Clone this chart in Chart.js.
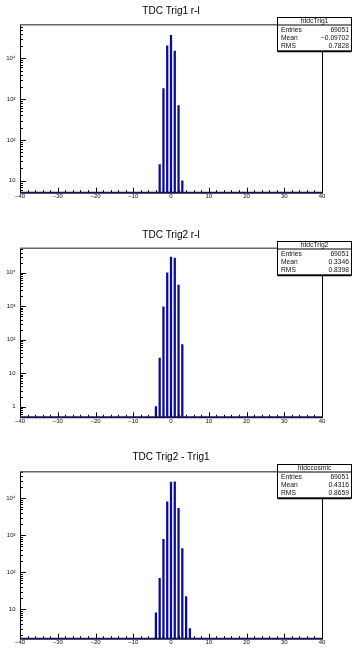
<!DOCTYPE html>
<html>
<head>
<meta charset="utf-8">
<script src="https://cdn.jsdelivr.net/npm/chart.js@4.4.1/dist/chart.umd.min.js"></script>
<style>
  html, body { margin: 0; padding: 0; background: #fff; }
  .pad { position: absolute; left: 0; width: 352px; height: 216px; }
</style>
</head>
<body>
<div class="pad" style="top:0px"><canvas id="c1" width="352" height="216"></canvas></div>
<div class="pad" style="top:216px"><canvas id="c2" width="352" height="216"></canvas></div>
<div class="pad" style="top:432px"><canvas id="c3" width="352" height="216"></canvas></div>
<script>
/* ---------- data ---------- */
const titles = ["TDC Trig1 r-l", "TDC Trig2 r-l", "TDC Trig2 - Trig1"];
const histNames = ["htdcTrig1", "htdcTrig2", "htdccosmic"];
const entries = ["69051", "69051", "69051"];
const means = ["\u22120.09702", "0.3346", "0.4316"];
const rmsValues = ["0.7828", "0.8398", "0.8659"];

const bins1 = [-3, -2, -1, 0, 1, 2, 3];
const counts1 = [25, 1830, 20400, 36700, 15100, 700, 10];

const bins2 = [-4, -3, -2, -1, 0, 1, 2, 3];
const counts2 = [1, 28, 960, 10000, 29500, 27600, 4300, 72];

const bins3 = [-4, -3, -2, -1, 0, 1, 2, 3, 4, 5];
const counts3 = [8, 69, 780, 8100, 27600, 28100, 5400, 435, 22, 3];

const xTicks = [-40, -30, -20, -10, 0, 10, 20, 30, 40];
const yMin = [5.1, 0.48, 1.6];
const yMax = [67000, 53700, 52500];

/* ---------- layout per pad ---------- */
const layout = [
  { titleTop: 5.7, titleBottom: 7.0, axisH: 23.3 },
  { titleTop: 13.5, titleBottom: 6.8, axisH: 14.7 },
  { titleTop: 19.5, titleBottom: 8.2, axisH: 9.3 }
];

Chart.defaults.font.family = "'Liberation Sans', Arial, 'DejaVu Sans', sans-serif";
Chart.defaults.color = "#000";

const NAVY = "#0b0b9a";
const SUP = { "2": "\u00b2", "3": "\u00b3", "4": "\u2074", "5": "\u2075" };

function fmtX(v) { return v < 0 ? "\u2212" + (-v) : String(v); }
function fmtY(v) {
  const e = Math.round(Math.log10(v));
  if (e === 0) return "1";
  if (e === 1) return "10";
  return "10" + SUP[e];
}

/* ROOT-like frame, inward ticks, stats box */
const rootFrame = {
  id: "rootFrame",
  afterDatasetsDraw(chart) {
    const { ctx, chartArea: a, scales: { x, y } } = chart;
    ctx.save();
    ctx.strokeStyle = "#000";
    ctx.lineWidth = 1;
    ctx.beginPath();
    for (let v = x.min; v <= x.max; v += 2) {
      const px = Math.round(x.getPixelForValue(v)) + 0.5;
      const len = v % 10 === 0 ? 5 : 2.5;
      ctx.moveTo(px, a.bottom);
      ctx.lineTo(px, a.bottom - len);
    }
    const d0 = Math.floor(Math.log10(y.min)), d1 = Math.ceil(Math.log10(y.max));
    for (let d = d0; d <= d1; d++) {
      for (let k = 1; k < 10; k++) {
        const v = k * Math.pow(10, d);
        if (v < y.min || v > y.max) continue;
        const py = Math.round(y.getPixelForValue(v)) + 0.5;
        ctx.moveTo(a.left, py);
        ctx.lineTo(a.left + (k === 1 ? 6 : 3), py);
      }
    }
    ctx.stroke();

    // frame
    ctx.beginPath();
    ctx.moveTo(a.left + 0.5, a.bottom);
    ctx.lineTo(a.left + 0.5, a.top);
    ctx.moveTo(a.right + 0.5, a.top);
    ctx.lineTo(a.right + 0.5, a.bottom);
    ctx.stroke();
    ctx.strokeStyle = "#666";
    ctx.lineWidth = 1.5;
    ctx.beginPath();
    ctx.moveTo(a.left, a.top);
    ctx.lineTo(a.right, a.top);
    ctx.stroke();
    ctx.strokeStyle = "#141450";
    ctx.lineWidth = 2;
    ctx.beginPath();
    ctx.moveTo(a.left, a.bottom);
    ctx.lineTo(a.right + 1, a.bottom);
    ctx.stroke();
    ctx.restore();
  },
  afterDraw(chart, args, opts) {
    const { ctx, chartArea: a } = chart;
    const i = opts.index;
    const left = 277.5, right = 351.5;
    const top = Math.round(a.top - 7.3) + 0.5;
    const h = 33.4;
    ctx.save();
    ctx.fillStyle = "#fff";
    ctx.fillRect(left, top, right - left, h);
    ctx.strokeStyle = "#000";
    ctx.lineWidth = 1;
    ctx.strokeRect(left, top, right - left, h);
    ctx.beginPath();
    ctx.moveTo(left, top + 7.5);
    ctx.lineTo(right, top + 7.5);
    ctx.stroke();
    ctx.lineWidth = 1.5;
    ctx.beginPath();
    ctx.moveTo(left, top + h + 0.5);
    ctx.lineTo(right, top + h + 0.5);
    ctx.stroke();

    ctx.fillStyle = "#111";
    ctx.font = "6.7px 'Liberation Sans', Arial, sans-serif";
    ctx.textBaseline = "middle";
    ctx.textAlign = "center";
    ctx.fillText(histNames[i], (left + right) / 2, top + 4);
    const rows = [["Entries", entries[i]], ["Mean", means[i]], ["RMS", rmsValues[i]]];
    rows.forEach((r, k) => {
      const ty = top + 12.2 + k * 8.4;
      ctx.textAlign = "left";
      ctx.fillText(r[0], 281, ty);
      ctx.textAlign = "right";
      ctx.fillText(r[1], 349, ty);
    });
    ctx.restore();
  }
};

function makePad(id, i, bins, counts) {
  const L = layout[i];
  return new Chart(document.getElementById(id), {
    type: "bar",
    data: {
      datasets: [{
        data: bins.map((b, k) => ({ x: b, y: counts[k] })),
        backgroundColor: NAVY,
        borderWidth: 0,
        barThickness: 1.6
      }]
    },
    options: {
      responsive: false,
      animation: false,
      events: [],
      layout: { padding: { left: 0, right: 30, top: 0, bottom: 0 } },
      plugins: {
        legend: { display: false },
        tooltip: { enabled: false },
        title: {
          display: true,
          text: titles[i],
          fullSize: false,
          color: "#000",
          font: { size: 10, weight: "normal", lineHeight: 1.2 },
          padding: { top: L.titleTop, bottom: L.titleBottom }
        },
        rootFrame: { index: i }
      },
      scales: {
        x: {
          type: "linear",
          min: -40,
          max: 40,
          offset: false,
          grid: { display: false, drawTicks: false, offset: false },
          border: { display: false },
          afterBuildTicks: s => { s.ticks = xTicks.map(v => ({ value: v })); },
          afterFit: s => { s.height = L.axisH; },
          ticks: {
            padding: 0,
            maxRotation: 0,
            autoSkip: false,
            font: { size: 6 },
            color: "#111",
            callback: v => fmtX(v)
          }
        },
        y: {
          type: "logarithmic",
          min: yMin[i],
          max: yMax[i],
          grid: { display: false, drawTicks: false },
          border: { display: false },
          afterBuildTicks: s => {
            const t = [];
            for (let e = -1; e <= 5; e++) {
              const v = Math.pow(10, e);
              if (v >= s.min && v <= s.max) t.push({ value: v });
            }
            s.ticks = t;
          },
          afterFit: s => { s.width = 20; },
          ticks: {
            padding: 4.5,
            autoSkip: false,
            font: { size: 6 },
            color: "#111",
            callback: v => fmtY(v)
          }
        }
      }
    },
    plugins: [rootFrame]
  });
}

makePad("c1", 0, bins1, counts1);
makePad("c2", 1, bins2, counts2);
makePad("c3", 2, bins3, counts3);
</script>
</body>
</html>
